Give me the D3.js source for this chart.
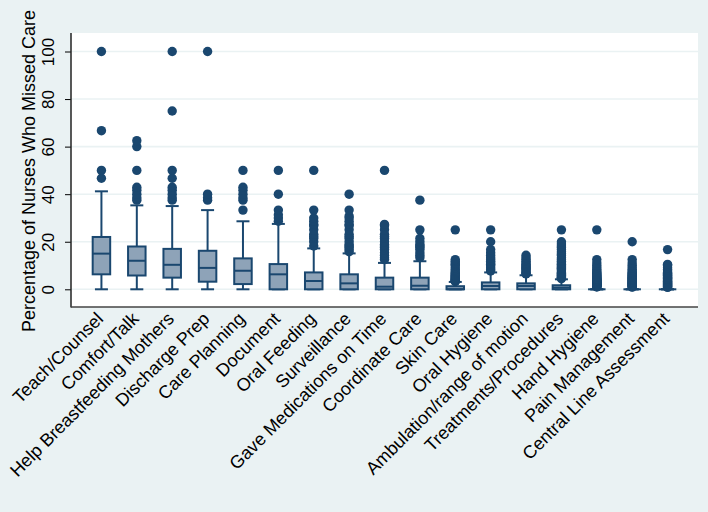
<!DOCTYPE html>
<html>
<head>
<meta charset="utf-8">
<script src="https://cdn.jsdelivr.net/npm/d3@7"></script>
<style>
  html, body { margin: 0; padding: 0; background: #eaf2f3; }
  svg { display: block; }
  text { font-family: "Liberation Sans", Arial, Helvetica, sans-serif; fill: #000; }
</style>
</head>
<body>
<svg id="chart" width="708" height="512"></svg>
<script>
const categories = ["Teach/Counsel", "Comfort/Talk", "Help Breastfeeding Mothers", "Discharge Prep",
  "Care Planning", "Document", "Oral Feeding", "Surveillance", "Gave Medications on Time",
  "Coordinate Care", "Skin Care", "Oral Hygiene", "Ambulation/range of motion",
  "Treatments/Procedures", "Hand Hygiene", "Pain Management", "Central Line Assessment"];

const whiskerLow  = [0, 0, 0, 0, 0, 0, 0, 0, 0, 0, 0, 0, 0, 0, 0, 0, 0];
const q1          = [6.3, 5.8, 4.9, 3.2, 2.2, 0, 0, 0, 0, 0, 0, 0, 0, 0, 0, 0, 0];
const medians     = [15, 12, 10.3, 9, 7.8, 6.3, 3.5, 2.5, 1.1, 1.5, 0, 1.4, 1.4, 0.7, 0, 0, 0];
const q3          = [22, 18, 17, 16.2, 13, 10.6, 7.1, 6.3, 4.9, 4.9, 1.3, 2.9, 2.5, 1.7, 0, 0, 0];
const whiskerHigh = [41.2, 35.3, 35, 33.3, 28.6, 27.5, 17.2, 15.1, 11.1, 11.8, 3.1, 7.1, 5.9, 4.2, 0, 0, 0];

const outliers = [
  [46.7, 50, 66.7, 100],
  [37.5, 38.5, 40, 41.7, 42.9, 50, 60, 62.5],
  [37.5, 38.5, 40, 41.7, 42.9, 46.7, 50, 75, 100],
  [37.5, 38.5, 40, 100],
  [33.3, 37.5, 38.5, 40, 41.7, 42.9, 50],
  [28.6, 30, 31.3, 33.3, 40, 50],
  [18.2, 20, 21.4, 22.2, 23.1, 25, 26.7, 27.3, 28.6, 30, 33.3, 50],
  [15.8, 16.7, 17.6, 18.2, 18.8, 20, 21.4, 22.2, 23.1, 25, 26.7, 27.3, 28.6, 30, 30.8, 33.3, 40],
  [12.5, 13.3, 14.3, 15.4, 16.7, 17.6, 18.2, 18.8, 20, 21.4, 22.2, 23.1, 25, 26.7, 27.3, 50],
  [13.3, 14.3, 15.4, 16.7, 17.6, 18.2, 18.8, 20, 21.4, 25, 37.5],
  [3.3, 3.4, 3.6, 3.8, 4, 4.2, 4.5, 4.8, 5, 5.3, 5.6, 5.9, 6.3, 6.7, 7.1, 7.7, 8.3, 9.1, 10, 10.5, 11.1, 11.8, 12.5, 25],
  [7.7, 8.3, 9.1, 10, 10.5, 11.1, 11.8, 12.5, 13.3, 14.3, 15.4, 16.7, 20, 25],
  [6.5, 6.7, 7.1, 7.7, 8.3, 8.7, 9.1, 9.5, 10, 10.5, 11.1, 11.8, 12.5, 13.3, 14.3],
  [4.5, 4.8, 5, 5.3, 5.6, 5.9, 6.3, 6.7, 7.1, 7.7, 8.3, 8.7, 9.1, 9.5, 10, 10.5, 11.1, 11.8, 12.5, 13.3, 14.3, 15, 15.8, 16.7, 17.6, 18.2, 19, 20, 25],
  [1, 1.1, 1.2, 1.3, 1.4, 1.5, 1.6, 1.7, 1.8, 1.9, 2, 2.1, 2.2, 2.3, 2.4, 2.5, 2.6, 2.8, 2.9, 3, 3.1, 3.3, 3.4, 3.6, 3.7, 3.8, 4, 4.2, 4.3, 4.5, 4.8, 5, 5.3, 5.6, 5.9, 6.3, 6.7, 7.1, 7.7, 8.3, 9.1, 10, 11.1, 12.5, 25],
  [0.9, 1.1, 1.3, 1.5, 1.7, 1.9, 2.1, 2.3, 2.5, 2.7, 2.9, 3.1, 3.3, 3.6, 3.8, 4, 4.3, 4.5, 4.8, 5, 5.3, 5.6, 5.9, 6.3, 6.7, 7.1, 7.7, 8.3, 9.1, 10, 11.1, 12.5, 20],
  [0.8, 1, 1.2, 1.4, 1.6, 1.8, 2, 2.2, 2.4, 2.6, 2.9, 3.1, 3.4, 3.7, 4, 4.3, 4.5, 4.8, 5, 5.3, 5.6, 5.9, 6.3, 6.7, 7.1, 7.7, 8.3, 9.1, 10, 10.5, 16.7]
];

const yTicks = [0, 20, 40, 60, 80, 100];
const yTitle = "Percentage of Nurses Who Missed Care";

const navy = "#1a476f";
const boxFill = "#8ea3b8";
const gridColor = "#eaf2f3";

const plot = { left: 71, right: 698, top: 33, bottom: 307 };

const svg = d3.select("#chart");

svg.append("rect").attr("x", 0).attr("y", 0).attr("width", 708).attr("height", 512).attr("fill", "#eaf2f3");
svg.append("rect")
  .attr("x", plot.left).attr("y", plot.top)
  .attr("width", plot.right - plot.left).attr("height", plot.bottom - plot.top)
  .attr("fill", "#ffffff");

const y = d3.scaleLinear().domain([0, 100]).range([289.3, 51.5]);
const x = d3.scalePoint().domain(categories).range([plot.left, plot.right]).padding(0.86);

// gridlines
svg.append("g").selectAll("line").data(yTicks).join("line")
  .attr("x1", plot.left).attr("x2", plot.right)
  .attr("y1", d => y(d)).attr("y2", d => y(d))
  .attr("stroke", gridColor).attr("stroke-width", 1.6);

// y axis
const yAxis = svg.append("g")
  .attr("transform", `translate(${plot.left},0)`)
  .call(d3.axisLeft(y).tickValues(yTicks).tickSize(6).tickPadding(0).tickFormat(d3.format("d")));
yAxis.select(".domain").remove();
yAxis.selectAll(".tick line").attr("stroke", "#000").attr("stroke-width", 1);
yAxis.selectAll(".tick text")
  .attr("x", null).attr("dy", null)
  .attr("transform", "translate(-17,0) rotate(-90)")
  .attr("text-anchor", "middle")
  .style("font-size", "17px")
  .style("font-family", "'Liberation Sans', Arial, sans-serif")
  .attr("fill", "#000");

// axis lines
svg.append("line").attr("x1", plot.left).attr("x2", plot.left)
  .attr("y1", plot.top).attr("y2", plot.bottom + 0.5)
  .attr("stroke", "#222").attr("stroke-width", 1.5);
svg.append("line").attr("x1", plot.left).attr("x2", plot.right)
  .attr("y1", plot.bottom).attr("y2", plot.bottom)
  .attr("stroke", "#444").attr("stroke-width", 1.5);

// y title
svg.append("text")
  .attr("transform", `translate(35,171) rotate(-90)`)
  .attr("text-anchor", "middle")
  .style("font-size", "18px")
  .text(yTitle);

// boxes
const boxW = 17.5, capW = 13;
const g = svg.append("g");
categories.forEach((c, i) => {
  const cx = x(c);
  const gg = g.append("g");
  gg.append("line").attr("x1", cx).attr("x2", cx).attr("y1", y(q3[i])).attr("y2", y(whiskerHigh[i]))
    .attr("stroke", navy).attr("stroke-width", 2);
  gg.append("line").attr("x1", cx).attr("x2", cx).attr("y1", y(q1[i])).attr("y2", y(whiskerLow[i]))
    .attr("stroke", navy).attr("stroke-width", 2);
  gg.append("line").attr("x1", cx - capW / 2).attr("x2", cx + capW / 2).attr("y1", y(whiskerHigh[i])).attr("y2", y(whiskerHigh[i]))
    .attr("stroke", navy).attr("stroke-width", 2);
  gg.append("line").attr("x1", cx - capW / 2).attr("x2", cx + capW / 2).attr("y1", y(whiskerLow[i])).attr("y2", y(whiskerLow[i]))
    .attr("stroke", navy).attr("stroke-width", 2);
  gg.append("rect").attr("x", cx - boxW / 2).attr("width", boxW)
    .attr("y", y(q3[i])).attr("height", Math.max(0, y(q1[i]) - y(q3[i])))
    .attr("fill", boxFill).attr("stroke", navy).attr("stroke-width", 2);
  gg.append("line").attr("x1", cx - boxW / 2).attr("x2", cx + boxW / 2).attr("y1", y(medians[i])).attr("y2", y(medians[i]))
    .attr("stroke", navy).attr("stroke-width", 2);
  gg.selectAll("circle").data(outliers[i]).join("circle")
    .attr("cx", cx).attr("cy", d => y(d)).attr("r", 4.7)
    .attr("fill", navy);
});

// x labels
svg.append("g").selectAll("text").data(categories).join("text")
  .attr("transform", d => `translate(${x(d) + 3},320) rotate(-45)`)
  .attr("text-anchor", "end")
  .style("font-size", "18px")
  .text(d => d);
</script>
</body>
</html>
